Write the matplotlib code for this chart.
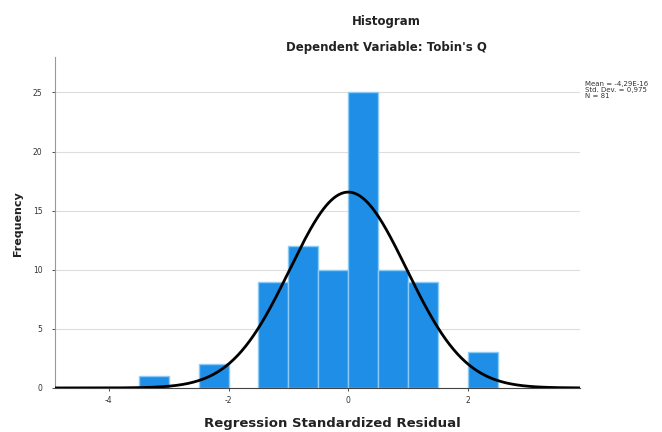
import matplotlib
matplotlib.use("Agg")
import matplotlib.pyplot as pl
import numpy as np

# histogram of standardized residuals (bin edges / counts)
bin_left = [-3.5, -2.5, -1.5, -1.0, -0.5, 0.0, 0.5, 1.0, 2.0]
counts = [1, 2, 9, 12, 10, 25, 10, 9, 3]
bin_width = 0.5

mean = -4.29e-16
std = 0.975
n = 81
stats_lines = ["Mean = -4,29E-16", "Std. Dev. = 0,975", "N = 81"]

xticks = [-4, -2, 0, 2]
yticks = [0, 5, 10, 15, 20, 25]

pl.rcParams['axes.unicode_minus'] = False

fig = pl.figure(figsize=(6.62, 4.32), dpi=100)
ax = fig.add_axes([0.083, 0.102, 0.793, 0.766])

ax.bar(bin_left, counts, width=bin_width, align='edge',
       color='#1f8ee6', edgecolor='#8ccbf5', linewidth=1.0, zorder=2)

# normal curve fitted on the residuals
xs = np.linspace(-4.9, 3.87, 400)
ys = n * bin_width / (std * np.sqrt(2 * np.pi)) * np.exp(-0.5 * ((xs - mean) / std) ** 2)
ax.plot(xs, ys, c='black', lw=2, zorder=3)

ax.set_xlim(-4.9, 3.87)
ax.set_ylim(0, 28)
ax.set_xticks(xticks)
ax.set_yticks(yticks)
ax.tick_params(labelsize=5.5, colors='#333333', length=2, width=0.6)
ax.tick_params(axis='y', pad=7)
ax.grid(axis='y', color='#dddddd', lw=0.8, zorder=0)
ax.set_axisbelow(True)
for s in ['top', 'right']:
    ax.spines[s].set_visible(False)
ax.spines['left'].set_color('#999999')
ax.spines['bottom'].set_color('#444444')

fig.text(18/662, 1 - 224/432, 'Frequency', rotation=90, ha='center', va='center',
         fontsize=8, fontweight='bold', color='#222222')
fig.text(332/662, 1 - 423/432, 'Regression Standardized Residual', ha='center', va='center',
         fontsize=9.5, fontweight='bold', color='#222222')

fig.text(386/662, 1 - 22/432, 'Histogram', ha='center', va='center',
         fontsize=8.5, fontweight='bold', color='#222222')
fig.text(386/662, 1 - 47/432, "Dependent Variable: Tobin's Q", ha='center', va='center',
         fontsize=8.5, fontweight='bold', color='#222222')

fig.text(585/662, 1 - 90/432, "\n".join(stats_lines), ha='left', va='center',
         fontsize=5, color='#333333', linespacing=1.0)

fig.savefig('out.png', dpi=100)
